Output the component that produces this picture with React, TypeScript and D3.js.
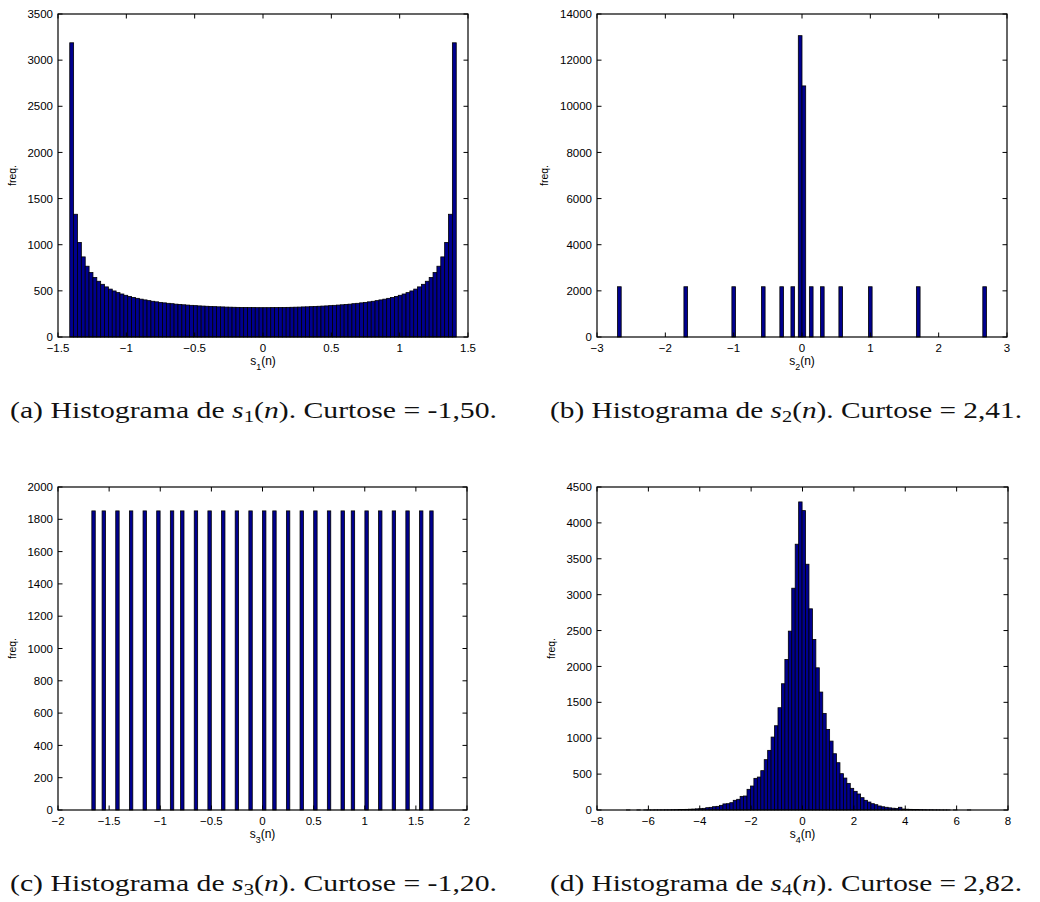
import React from "react";
import * as d3 from "d3";

// ---------- data ----------
// s1(n): 100-bin histogram over [-1.414, 1.414]
const S1_RANGE = [-1.414, 1.414];
const S1_COUNTS = [
  3188, 1330, 1025, 868, 767, 698, 645, 604, 571, 543,
  519, 499, 481, 466, 452, 440, 429, 419, 410, 402,
  394, 387, 381, 375, 370, 365, 361, 356, 353, 349,
  346, 343, 340, 337, 335, 333, 331, 329, 327, 326,
  324, 323, 322, 321, 320, 320, 319, 319, 318, 318,
  318, 318, 319, 319, 320, 320, 321, 322, 323, 324,
  326, 327, 329, 331, 333, 335, 337, 340, 343, 346,
  349, 353, 356, 361, 365, 370, 375, 381, 387, 394,
  402, 410, 419, 429, 440, 452, 466, 481, 499, 519,
  543, 571, 604, 645, 698, 767, 868, 1025, 1330, 3188,
];

// s2(n): 100-bin histogram over [-2.7, 2.7], only non-empty bins
const S2_RANGE = [-2.7, 2.7];
const S2_BINS = [0, 18, 31, 39, 44, 47, 49, 50, 52, 55, 60, 68, 81, 99];
const S2_COUNTS = [2178, 2178, 2178, 2178, 2178, 2178, 13061, 10883, 2178, 2178, 2178, 2178, 2178, 2178];

// s3(n): 100-bin histogram over [-1.669, 1.669], only non-empty bins
const S3_RANGE = [-1.669, 1.669];
const S3_BINS = [0, 3, 7, 11, 15, 19, 23, 26, 30, 34, 38, 42, 46, 50, 53, 57, 61, 65, 69, 73, 76, 80, 84, 88, 92, 96, 99];
const S3_COUNTS = [
  1852, 1852, 1852, 1852, 1852, 1852, 1852, 1852, 1852, 1852, 1852, 1852, 1852, 1852,
  1852, 1852, 1852, 1852, 1852, 1852, 1852, 1852, 1852, 1852, 1852, 1852, 1852,
];

// s4(n): 100-bin histogram over [-6.85, 6.55]
const S4_RANGE = [-6.85, 6.55];
const S4_COUNTS = [
  1, 0, 0, 1, 0, 1, 1, 1, 2, 2,
  2, 3, 3, 4, 5, 6, 7, 9, 11, 13,
  16, 19, 23, 32, 37, 46, 51, 65, 85, 88,
  102, 135, 149, 190, 195, 288, 334, 441, 459, 548,
  701, 831, 1016, 1174, 1425, 1759, 2097, 2492, 3090, 3703,
  4292, 4171, 3424, 2803, 2376, 1981, 1643, 1346, 1123, 960,
  784, 659, 506, 445, 371, 302, 260, 223, 172, 135,
  111, 88, 74, 56, 45, 38, 30, 25, 20, 38,
  14, 11, 9, 7, 6, 5, 4, 3, 3, 2,
  2, 1, 1, 1, 0, 1, 0, 0, 0, 1,
];

const N_BINS = 100;

// tick values
const A_XTICKS = [-1.5, -1, -0.5, 0, 0.5, 1, 1.5];
const A_YTICKS = [0, 500, 1000, 1500, 2000, 2500, 3000, 3500];
const B_XTICKS = [-3, -2, -1, 0, 1, 2, 3];
const B_YTICKS = [0, 2000, 4000, 6000, 8000, 10000, 12000, 14000];
const C_XTICKS = [-2, -1.5, -1, -0.5, 0, 0.5, 1, 1.5, 2];
const C_YTICKS = [0, 200, 400, 600, 800, 1000, 1200, 1400, 1600, 1800, 2000];
const D_XTICKS = [-8, -6, -4, -2, 0, 2, 4, 6, 8];
const D_YTICKS = [0, 500, 1000, 1500, 2000, 2500, 3000, 3500, 4000, 4500];

// captions
const CAPTIONS = [
  { letter: "a", sub: "1", kurt: "-1,50" },
  { letter: "b", sub: "2", kurt: "2,41" },
  { letter: "c", sub: "3", kurt: "-1,20" },
  { letter: "d", sub: "4", kurt: "2,82" },
];

const SANS = "'Liberation Sans', Arial, Helvetica, sans-serif";
const SERIF = "'Liberation Serif', 'Times New Roman', serif";
const BAR_FILL = "#00008f";

function fmt(v: number) {
  return String(v).replace("-", "\u2212");
}

type PanelProps = {
  box: { l: number; r: number; t: number; b: number };
  xDomain: [number, number];
  yDomain: [number, number];
  xTicks: number[];
  yTicks: number[];
  range: number[];
  bins: number[];
  counts: number[];
  sub: string;
  ylabOffset: number;
};

function Panel({ box, xDomain, yDomain, xTicks, yTicks, range, bins, counts, sub, ylabOffset }: PanelProps) {
  const x = d3.scaleLinear().domain(xDomain).range([box.l, box.r]);
  const y = d3.scaleLinear().domain(yDomain).range([box.b, box.t]);
  const w = (range[1] - range[0]) / N_BINS;
  const tl = 4.5;
  const cx = (box.l + box.r) / 2;
  const cy = (box.t + box.b) / 2;
  return (
    <g>
      {bins.map((bi, i) => {
        const x0 = x(range[0] + bi * w);
        const x1 = x(range[0] + (bi + 1) * w);
        const c = counts[i];
        if (c <= 0) return null;
        return (
          <rect
            key={i}
            x={x0}
            y={y(c)}
            width={x1 - x0}
            height={y(0) - y(c)}
            fill={BAR_FILL}
            stroke="#000"
            strokeWidth={0.8}
          />
        );
      })}
      <rect x={box.l} y={box.t} width={box.r - box.l} height={box.b - box.t} fill="none" stroke="#000" strokeWidth={1.2} />
      {xTicks.map((v, i) => (
        <g key={"xt" + i}>
          <line x1={x(v)} x2={x(v)} y1={box.b} y2={box.b - tl} stroke="#000" strokeWidth={1} />
          <line x1={x(v)} x2={x(v)} y1={box.t} y2={box.t + tl} stroke="#000" strokeWidth={1} />
          <text x={x(v)} y={box.b + 15} textAnchor="middle" fontFamily={SANS} fontSize={11.5} fill="#000">
            {fmt(v)}
          </text>
        </g>
      ))}
      {yTicks.map((v, i) => (
        <g key={"yt" + i}>
          <line x1={box.l} x2={box.l + tl} y1={y(v)} y2={y(v)} stroke="#000" strokeWidth={1} />
          <line x1={box.r} x2={box.r - tl} y1={y(v)} y2={y(v)} stroke="#000" strokeWidth={1} />
          <text x={box.l - 5} y={y(v)} dy="0.36em" textAnchor="end" fontFamily={SANS} fontSize={11.5} fill="#000">
            {fmt(v)}
          </text>
        </g>
      ))}
      <text x={cx} y={box.b + 28} textAnchor="middle" fontFamily={SANS} fontSize={12} fill="#000">
        s<tspan fontSize={9} dy={5}>{sub}</tspan>
        <tspan dy={-5}>(n)</tspan>
      </text>
      <text
        transform={`translate(${box.l - ylabOffset},${cy}) rotate(-90)`}
        textAnchor="middle"
        fontFamily={SANS}
        fontSize={10.5}
        fill="#000"
      >
        freq.
      </text>
    </g>
  );
}

function Caption({ cx, y, letter, sub, kurt, len }: { cx: number; y: number; letter: string; sub: string; kurt: string; len: number }) {
  return (
    <text x={cx} y={y} textAnchor="middle" fontFamily={SERIF} fontSize={23} fill="#111" textLength={len} lengthAdjust="spacingAndGlyphs">
      ({letter}) Histograma de <tspan fontStyle="italic">s</tspan>
      <tspan fontSize={16} dy={4}>{sub}</tspan>
      <tspan dy={-4}>(</tspan>
      <tspan fontStyle="italic">n</tspan>
      <tspan>). Curtose = {kurt}.</tspan>
    </text>
  );
}

export default function App() {
  const allBins = d3.range(N_BINS);
  return (
    <svg
      width={1040}
      height={902}
      style={{ position: "absolute", left: 0, top: 0, background: "#fff" }}
    >
      <rect x={0} y={0} width={1040} height={902} fill="#fff" />
      <Panel
        box={{ l: 58, r: 468, t: 14, b: 337 }}
        xDomain={[-1.5, 1.5]}
        yDomain={[0, 3500]}
        xTicks={A_XTICKS}
        yTicks={A_YTICKS}
        range={S1_RANGE}
        bins={allBins}
        counts={S1_COUNTS}
        sub="1"
        ylabOffset={42}
      />
      <Panel
        box={{ l: 597, r: 1007, t: 14, b: 337 }}
        xDomain={[-3, 3]}
        yDomain={[0, 14000]}
        xTicks={B_XTICKS}
        yTicks={B_YTICKS}
        range={S2_RANGE}
        bins={S2_BINS}
        counts={S2_COUNTS}
        sub="2"
        ylabOffset={49}
      />
      <Panel
        box={{ l: 58, r: 467, t: 487, b: 810 }}
        xDomain={[-2, 2]}
        yDomain={[0, 2000]}
        xTicks={C_XTICKS}
        yTicks={C_YTICKS}
        range={S3_RANGE}
        bins={S3_BINS}
        counts={S3_COUNTS}
        sub="3"
        ylabOffset={42}
      />
      <Panel
        box={{ l: 597, r: 1008, t: 487, b: 810 }}
        xDomain={[-8, 8]}
        yDomain={[0, 4500]}
        xTicks={D_XTICKS}
        yTicks={D_YTICKS}
        range={S4_RANGE}
        bins={allBins}
        counts={S4_COUNTS}
        sub="4"
        ylabOffset={42}
      />
      <Caption cx={253.5} y={418} {...CAPTIONS[0]} len={487} />
      <Caption cx={786} y={418} {...CAPTIONS[1]} len={472} />
      <Caption cx={253.5} y={891} {...CAPTIONS[2]} len={487} />
      <Caption cx={786} y={891} {...CAPTIONS[3]} len={472} />
    </svg>
  );
}
